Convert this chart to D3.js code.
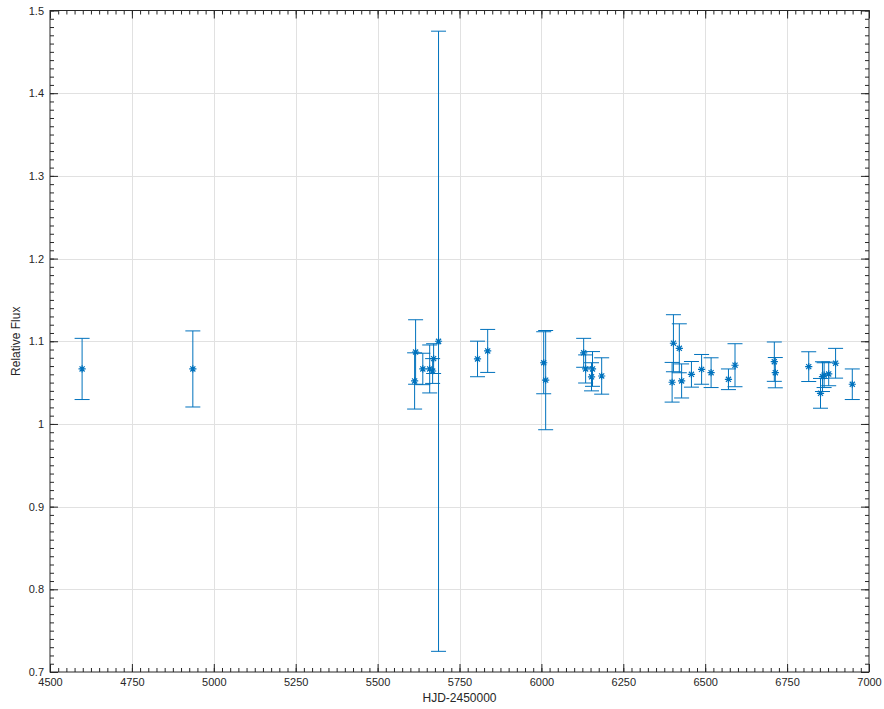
<!DOCTYPE html>
<html>
<head>
<meta charset="utf-8">
<script src="https://cdn.jsdelivr.net/npm/d3@7"></script>
<style>
  html, body { margin: 0; padding: 0; background: #fff; }
  svg { display: block; }
  text { font-family: "Liberation Sans", Arial, Helvetica, sans-serif; fill: #262626; }
</style>
</head>
<body>
<svg id="chart" width="884" height="709"></svg>
<script>
// ---- Data ----
const hjd  = [4598, 4936, 5613, 5616, 5638, 5659, 5668, 5671, 5686, 5805, 5836,
              6007, 6013, 6129, 6135, 6156, 6153, 6184,
              6403, 6421, 6399, 6428, 6458, 6489, 6518, 6571, 6591,
              6711, 6714, 6816, 6898, 6858, 6863, 6877, 6852, 6949];
const flux = [1.0665, 1.0665, 1.052, 1.087, 1.0665, 1.0665, 1.064, 1.079, 1.100, 1.0786, 1.0883,
              1.074, 1.053, 1.086, 1.0665, 1.0665, 1.057, 1.058,
              1.0976, 1.0915, 1.0504, 1.052, 1.060, 1.066, 1.062, 1.054, 1.071,
              1.0753, 1.062, 1.0693, 1.0734, 1.0572, 1.059, 1.0605, 1.037, 1.048];
const fluxErr = [0.037, 0.046, 0.034, 0.039, 0.019, 0.029, 0.015, 0.018, 0.375, 0.0215, 0.026,
              0.0375, 0.060, 0.0175, 0.017, 0.021, 0.017, 0.022,
              0.0345, 0.0296, 0.024, 0.0206, 0.0155, 0.018, 0.018, 0.0125, 0.026,
              0.0238, 0.0183, 0.018, 0.018, 0.018, 0.015, 0.0143, 0.018, 0.0185];
const xTicks = [4500, 4750, 5000, 5250, 5500, 5750, 6000, 6250, 6500, 6750, 7000];
const yTicks = [0.7, 0.8, 0.9, 1.0, 1.1, 1.2, 1.3, 1.4, 1.5];
const xLabel = "HJD-2450000";
const yLabel = "Relative Flux";

// ---- Layout ----
const svg = d3.select("#chart");
const L = 50, R = 869, T = 10.5, B = 672;
const x = d3.scaleLinear().domain([4500, 7000]).range([L, R]);
const y = d3.scaleLinear().domain([0.7, 1.5]).range([B, T]);
const color = "#0072BD";
const axisColor = "#262626";

// grid
const grid = svg.append("g");
grid.selectAll("line.gx").data(xTicks.slice(1, -1)).join("line")
  .attr("x1", d => Math.round(x(d)) + 0.5).attr("x2", d => Math.round(x(d)) + 0.5)
  .attr("y1", T).attr("y2", B)
  .attr("stroke", "#e1e1e1").attr("stroke-width", 1);
grid.selectAll("line.gy").data(yTicks.slice(1, -1)).join("line")
  .attr("y1", d => Math.round(y(d)) + 0.5).attr("y2", d => Math.round(y(d)) + 0.5)
  .attr("x1", L).attr("x2", R)
  .attr("stroke", "#e1e1e1").attr("stroke-width", 1);

// axes with inward ticks (major + minor) on all four sides
const xMinor = d3.range(4500, 7000.001, 25);
const yMinor = d3.range(0, 81).map(i => 0.7 + i * 0.01);

function addAxis(axisGen, transform, withLabels) {
  const g = svg.append("g").attr("transform", transform).call(axisGen);
  g.select(".domain").remove();
  g.selectAll("line").attr("stroke", axisColor);
  if (!withLabels) g.selectAll("text").remove();
  else g.selectAll("text").attr("font-size", 11).attr("fill", axisColor);
  return g;
}
// minor
addAxis(d3.axisBottom(x).tickValues(xMinor).tickSize(-4).tickFormat(""), `translate(0,${B})`, false);
addAxis(d3.axisTop(x).tickValues(xMinor).tickSize(-4).tickFormat(""), `translate(0,${T})`, false);
addAxis(d3.axisLeft(y).tickValues(yMinor).tickSize(-4).tickFormat(""), `translate(${L},0)`, false);
addAxis(d3.axisRight(y).tickValues(yMinor).tickSize(-4).tickFormat(""), `translate(${R},0)`, false);
// major
addAxis(d3.axisBottom(x).tickValues(xTicks).tickSize(-8).tickPadding(6).tickFormat(d3.format("d")), `translate(0,${B})`, true);
addAxis(d3.axisTop(x).tickValues(xTicks).tickSize(-8).tickFormat(""), `translate(0,${T})`, false);
addAxis(d3.axisLeft(y).tickValues(yTicks).tickSize(-8).tickPadding(6).tickFormat(d => d3.format("")(+d.toFixed(1))), `translate(${L},0)`, true);
addAxis(d3.axisRight(y).tickValues(yTicks).tickSize(-8).tickFormat(""), `translate(${R},0)`, false);

// box
svg.append("rect").attr("x", L).attr("y", T).attr("width", R - L).attr("height", B - T)
  .attr("fill", "none").attr("stroke", axisColor).attr("stroke-width", 1);

// axis labels
svg.append("text").attr("x", (L + R) / 2).attr("y", 702).attr("text-anchor", "middle")
  .attr("font-size", 12).text(xLabel);
svg.append("text").attr("transform", `translate(20,${(T + B) / 2}) rotate(-90)`)
  .attr("text-anchor", "middle").attr("font-size", 12).text(yLabel);

// data
const pts = hjd.map((h, i) => ({ x: h, y: flux[i], e: fluxErr[i] }));
const capW = 7.5;
const eb = svg.append("g").attr("stroke", color).attr("stroke-width", 1).attr("fill", "none");
pts.forEach(p => {
  const cx = x(p.x), y1 = y(p.y + p.e), y2 = y(p.y - p.e);
  eb.append("line").attr("x1", cx).attr("x2", cx).attr("y1", y1).attr("y2", y2);
  eb.append("line").attr("x1", cx - capW).attr("x2", cx + capW).attr("y1", y1).attr("y2", y1);
  eb.append("line").attr("x1", cx - capW).attr("x2", cx + capW).attr("y1", y2).attr("y2", y2);
});
const star = d3.symbol().type({ draw(ctx, size) {
  const r = 3.6, d = r * Math.SQRT1_2;
  ctx.moveTo(-r, 0); ctx.lineTo(r, 0);
  ctx.moveTo(0, -r); ctx.lineTo(0, r);
  ctx.moveTo(-d, -d); ctx.lineTo(d, d);
  ctx.moveTo(-d, d); ctx.lineTo(d, -d);
}});
svg.append("g").selectAll("path").data(pts).join("path")
  .attr("transform", d => `translate(${x(d.x)},${y(d.y)})`)
  .attr("d", star())
  .attr("stroke", color).attr("stroke-width", 1.2).attr("fill", "none");
</script>
</body>
</html>
